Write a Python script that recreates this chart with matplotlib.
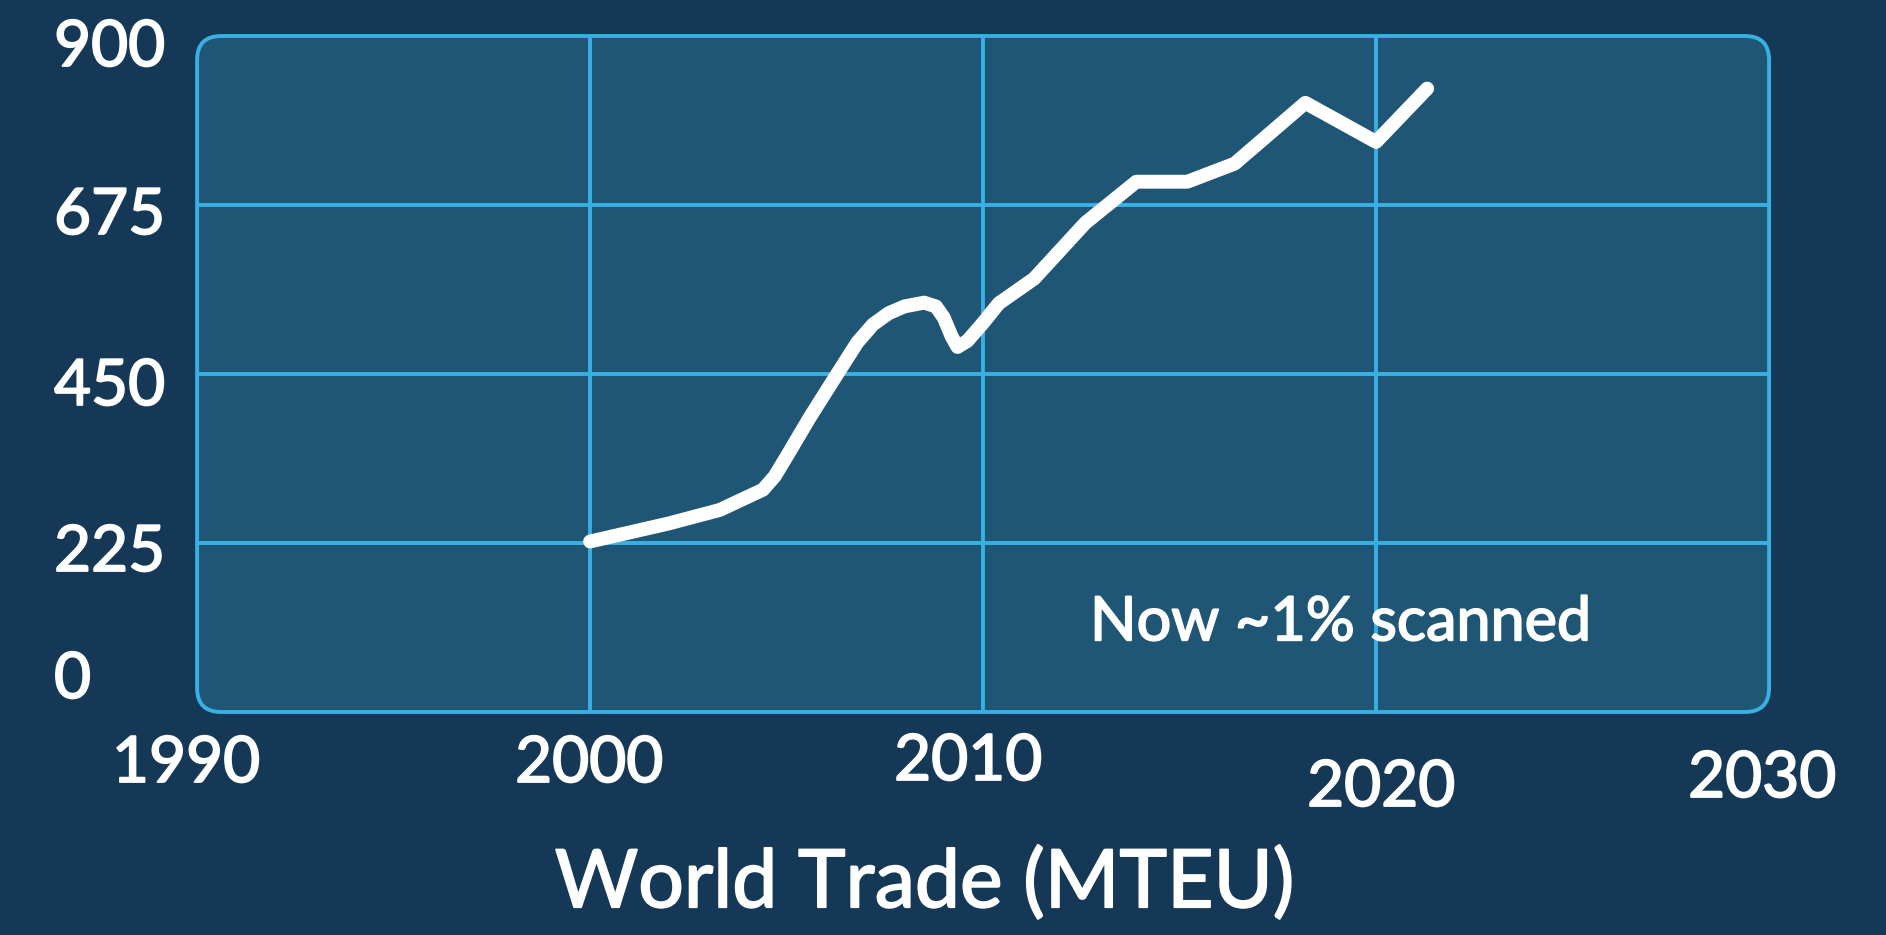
import matplotlib
matplotlib.use("Agg")
import matplotlib.pyplot as plt
import matplotlib.transforms as mtrans
import matplotlib.patheffects as pe
from matplotlib.patches import FancyBboxPatch

# world trade curve
years = [2000, 2002.0, 2003.3, 2004.4, 2004.7, 2005.0, 2005.6, 2006.3, 2006.8,
         2007.2, 2007.6, 2008.0, 2008.5, 2008.8, 2009.0, 2009.2, 2009.35, 2009.6,
         2010.0, 2010.4, 2011.3, 2012.6, 2013.9, 2015.2, 2016.4, 2018.2, 2020.0,
         2021.3]
trade = [227, 251, 269, 296, 314, 340, 393, 451, 492,
         516, 531, 540, 545, 540, 525, 500, 486, 494,
         518, 544, 577, 651, 706, 706, 730, 811, 759,
         830]

x_ticks = [1990, 2000, 2010, 2020, 2030]
x_tick_labels = ["1990", "2000", "2010", "2020", "2030"]
y_ticks = [0, 225, 450, 675, 900]
y_tick_labels = ["0", "225", "450", "675", "900"]
note = "Now ~1% scanned"
x_title = "World Trade (MTEU)"

BG = "#163857"
PANEL = "#1f5676"
GRID = "#38b0e4"
FONT = ["Lato", "DejaVu Sans"]

plt.rcParams['font.family'] = FONT
bold_ish = [pe.withStroke(linewidth=1.3, foreground="white")]

fig = plt.figure(figsize=(18.86, 9.35), dpi=100, facecolor=BG)
ax = fig.add_axes([0.1045, 0.2385, 0.8335, 0.723])
ax.set_xlim(x_ticks[0], x_ticks[-1])
ax.set_ylim(y_ticks[0], y_ticks[-1])
ax.patch.set_visible(False)
for s in ax.spines.values():
    s.set_visible(False)

# rounded panel
aspect = (0.8335 * 1886) / (0.723 * 935)
panel = FancyBboxPatch((0, 0), 1, 1, transform=ax.transAxes,
                       boxstyle="round,pad=0,rounding_size=0.0153",
                       mutation_aspect=aspect, facecolor=PANEL,
                       edgecolor=GRID, linewidth=2.8, zorder=0, clip_on=False)
ax.add_patch(panel)

ax.set_xticks(x_ticks[1:-1])
ax.set_yticks(y_ticks[1:-1])
ax.tick_params(length=0, labelbottom=False, labelleft=False)
ax.grid(True, color=GRID, linewidth=2.8, zorder=1)
ax.set_axisbelow(True)

ax.plot(years, trade, color="white", linewidth=10, solid_capstyle="round",
        solid_joinstyle="round", zorder=3)

# y tick labels, left aligned outside the panel
y_shift = [32, -10, -13, -11, -12]   # pixels, + is up
for v, lab, dy in zip(y_ticks, y_tick_labels, y_shift):
    tr = mtrans.offset_copy(ax.get_yaxis_transform(), fig=fig, x=0, y=dy, units='dots')
    ax.text(-0.091, v, lab, transform=tr, ha="left", va="center",
            color="white", fontsize=46, clip_on=False, path_effects=bold_ish)

# x tick labels, slightly staggered like the original
x_pos = [186, 589, 968, 1381, 1762]
x_drop = [52, 52, 50, 76, 67]   # pixels below panel bottom
for yr, lab, px, dy in zip(x_ticks, x_tick_labels, x_pos, x_drop):
    tr = mtrans.offset_copy(ax.get_xaxis_transform(), fig=fig, x=0, y=-dy, units='dots')
    ax.text(yr + (px - (197 + (yr - 1990) * 39.3)) / 39.3, 0, lab, transform=tr,
            ha="center", va="center", color="white", fontsize=46, clip_on=False,
            path_effects=bold_ish)

ax.text(0.568, 0.132, note, transform=ax.transAxes, ha="left", va="center",
        color="white", fontsize=44, path_effects=bold_ish)

fig.text(0.49, 0.055, x_title, ha="center", va="center", color="white", fontsize=58,
         path_effects=bold_ish)

plt.savefig("out.png", dpi=100, facecolor=BG)
